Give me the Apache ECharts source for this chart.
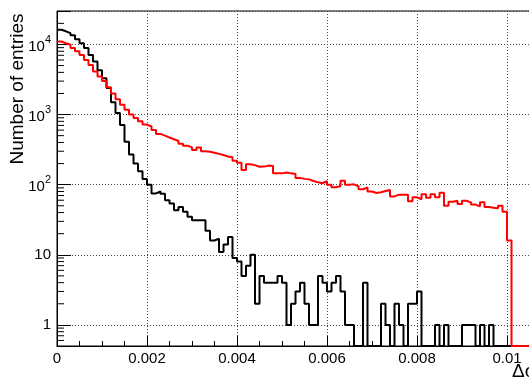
<!DOCTYPE html>
<html><head><meta charset="utf-8">
<script src="https://cdn.jsdelivr.net/npm/echarts@6/dist/echarts.min.js"></script>
<style>html,body{margin:0;padding:0;background:#fff}#c{width:529px;height:381px}</style>
</head><body><div id="c"></div>
<script>
const binWidth = 0.0001;
const blackCounts = [
16200,15400,14500,13500,11900,10400,8900,7100,5700,4300,
3300,2400,1500,1050,710,410,270,200,155,120,
100,75,80,74,60,54,43,48,41,35,
31,31,31,22,16,17,11,14,18,9,
8,5,7,10,2,5,4,4,4,5,
4,1,2,3,4,2,1,1,5,4,
3,4,5,3,1,1,0,0,4,0,
0,0,2,1,0,2,1,0,2,2,
3,0,0,0,1,0,1,0,0,0,
1,1,1,0,1,0,1,0,0,0,
0,0,0,0,0,0,0,0,0,0];
const redCounts = [
11000,10400,9900,8900,8000,7100,6000,5100,4100,3500,
3000,2450,2000,1650,1380,1170,1000,890,800,720,
675,600,530,500,470,445,420,385,360,340,
313,340,300,295,285,275,265,252,246,220,
205,162,195,190,180,181,187,185,145,145,
149,145,142,125,121,119,113,108,105,112,
100,92,96,114,100,101,95,86,91,80,
76,78,81,84,68,72,72,72,58,66,
62,73,65,73,66,77,50,57,59,53,
59,56,52,49,56,48,47,46,50,41,
16,0,0,0,0,0,0,0,0,0];
const xTickLabels = ['0','0.002','0.004','0.006','0.008','0.01'];
const yMajorValues = [1, 10, 100, 1000, 10000];
const yMajorLabels = ['1', '10', '10^2', '10^3', '10^4'];
const yMinorTicks = [0.6,0.7,0.8,0.9,2,3,4,5,6,7,8,9,20,30,40,50,60,70,80,90,
  200,300,400,500,600,700,800,900,2000,3000,4000,5000,6000,7000,8000,9000,20000];
const xTitle = 'Δφ';
const yTitle = 'Number of entries';

const X_MAX = 0.011, Y_MIN = 0.5, Y_MAX = 30000;
const FONT = '"Liberation Sans", Arial, Helvetica, sans-serif';

function toSteps(counts) {
  const pts = counts.map((c, i) => [+(i * binWidth).toFixed(6), c > 0 ? c : Y_MIN]);
  const last = counts[counts.length - 1];
  pts.push([+(counts.length * binWidth).toFixed(6), last > 0 ? last : Y_MIN]);
  return pts;
}

const chart = echarts.init(document.getElementById('c'), null, {renderer: 'canvas'});
chart.setOption({
  animation: false,
  backgroundColor: '#fff',
  grid: {left: 57, top: 11, width: 495, height: 335, show: true, borderColor: '#000', borderWidth: 1,
         backgroundColor: 'transparent', containLabel: false, outerBoundsMode: 'none'},
  xAxis: {
    type: 'value', min: 0, max: X_MAX, interval: 0.002,
    axisLine: {lineStyle: {color: '#000', width: 1}},
    axisTick: {inside: true, length: 10, lineStyle: {color: '#000'}},
    minorTick: {show: true, splitNumber: 4, length: 5, lineStyle: {color: '#000'}},
    splitLine: {show: true, lineStyle: {color: '#444', type: [1, 2], width: 1}},
    axisLabel: {
      margin: 5, fontSize: 15, fontFamily: FONT, color: '#000', hideOverlap: false,
      formatter: (v) => {
        const i = Math.round(v / 0.002);
        return (Math.abs(v - i * 0.002) < 1e-9 && i < xTickLabels.length) ? xTickLabels[i] : '';
      }
    }
  },
  yAxis: {
    type: 'log', logBase: 10, min: Y_MIN, max: Y_MAX,
    axisLine: {lineStyle: {color: '#000', width: 1}},
    axisTick: {inside: true, length: 14, lineStyle: {color: '#000'}},
    splitLine: {show: true, lineStyle: {color: '#444', type: [1, 2], width: 1}},
    axisLabel: {
      margin: 6, fontFamily: FONT, color: '#000',
      formatter: (v) => {
        const i = yMajorValues.findIndex(m => Math.abs(m - v) / m < 1e-6);
        if (i < 0) return '';
        const lab = yMajorLabels[i];
        if (lab.indexOf('^') >= 0) {
          const parts = lab.split('^');
          return '{b|' + parts[0] + '}{s|' + parts[1] + '}';
        }
        return '{n|' + lab + '}';
      },
      rich: {
        n: {fontSize: 15, fontFamily: FONT, color: '#000'},
        b: {fontSize: 15, fontFamily: FONT, color: '#000', lineHeight: 20, verticalAlign: 'bottom'},
        s: {fontSize: 11, fontFamily: FONT, color: '#000', lineHeight: 11, verticalAlign: 'top'}
      }
    }
  },
  graphic: [
    {type: 'text', x: 18, y: 89, rotation: Math.PI / 2,
     style: {text: yTitle, fontSize: 19, fontFamily: FONT, fill: '#000', align: 'center', verticalAlign: 'middle'}},
    {type: 'text', x: 512, y: 372,
     style: {text: xTitle, fontSize: 19, fontFamily: FONT, fill: '#000', align: 'left', verticalAlign: 'middle'}}
  ],
  series: [
    {type: 'custom', name: 'minorTicks', silent: true, clip: false, z: 5,
     data: yMinorTicks.map(v => [0, v]),
     renderItem: (params, api) => {
       const p = api.coord([0, api.value(1)]);
       return {type: 'line', shape: {x1: p[0], y1: p[1], x2: p[0] + 7, y2: p[1]},
               style: {stroke: '#000', lineWidth: 1}};
     }},
    {type: 'line', name: 'black', step: 'end', showSymbol: false, clip: true,
     data: toSteps(blackCounts), lineStyle: {color: '#000', width: 2}, z: 3},
    {type: 'line', name: 'red', step: 'end', showSymbol: false, clip: true,
     data: toSteps(redCounts), lineStyle: {color: '#ff0000', width: 2}, z: 4}
  ]
});
</script></body></html>
